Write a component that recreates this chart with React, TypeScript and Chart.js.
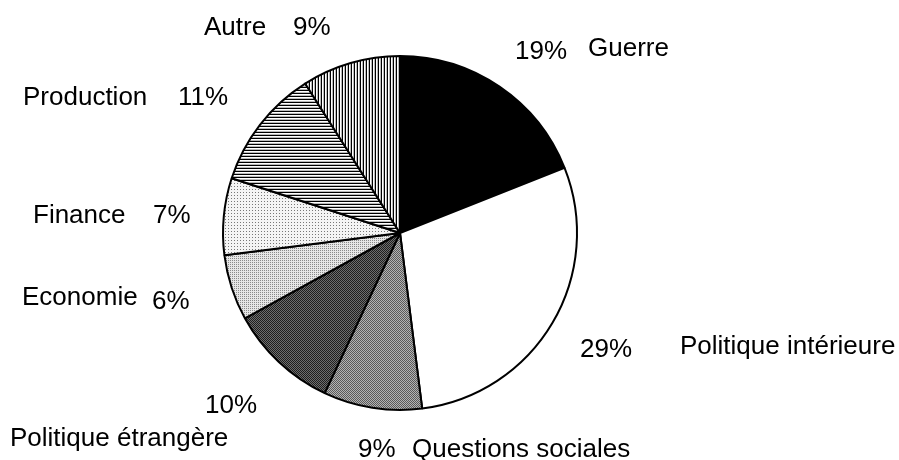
import React, { useEffect, useRef } from "react";
import { Chart, registerables } from "chart.js";

Chart.register(...registerables);

const categories = [
  "Guerre",
  "Politique intérieure",
  "Questions sociales",
  "Politique étrangère",
  "Economie",
  "Finance",
  "Production",
  "Autre",
];
const shares = [19, 29, 9, 10, 6, 7, 11, 9];

// label layout: [pctDx, pctDy, nameDx, nameDy] relative to pie centre (left aligned, cap-centre y)
const labelLayout: number[][] = [
  [115, -183, 188, -186],
  [180, 115, 280, 112],
  [-42, 215, 12, 215],
  [-195, 171, -390, 204],
  [-248, 67, -378, 63],
  [-247, -19, -367, -19],
  [-222, -137, -377, -137],
  [-107, -207, -196, -207],
];

function makeTile(w: number, h: number, pixels: string[]): CanvasPattern | string {
  const c = document.createElement("canvas");
  c.width = w;
  c.height = h;
  const ctx = c.getContext("2d");
  if (!ctx) return "#888";
  for (let y = 0; y < h; y++) {
    for (let x = 0; x < w; x++) {
      ctx.fillStyle = pixels[y * w + x];
      ctx.fillRect(x, y, 1, 1);
    }
  }
  const p = ctx.createPattern(c, "repeat");
  return p || "#888";
}

export default function App() {
  const ref = useRef<HTMLCanvasElement>(null);
  useEffect(() => {
    document.body.style.margin = "0";
    if (!ref.current) return;
    const fills = [
      "#000000",
      "#ffffff",
      makeTile(2, 2, ["#5a5a5a", "#b4b4b4", "#b4b4b4", "#5a5a5a"]),
      makeTile(2, 2, ["#1e1e1e", "#6e6e6e", "#6e6e6e", "#1e1e1e"]),
      makeTile(2, 2, ["#8a8a8a", "#e6e6e6", "#e6e6e6", "#e6e6e6"]),
      makeTile(3, 3, [
        "#777777", "#f4f4f4", "#f4f4f4",
        "#f4f4f4", "#f4f4f4", "#f4f4f4",
        "#f4f4f4", "#f4f4f4", "#f4f4f4",
      ]),
      makeTile(1, 3, ["#000000", "#ffffff", "#bbbbbb"]),
      makeTile(3, 1, ["#000000", "#ffffff", "#bbbbbb"]),
    ];
    const labelPlugin = {
      id: "sliceLabels",
      afterDraw(chart: any) {
        const meta = chart.getDatasetMeta(0);
        const arc = meta.data[0];
        if (!arc) return;
        const cx = arc.x;
        const cy = arc.y;
        const ctx = chart.ctx;
        const total = shares.reduce((a, b) => a + b, 0);
        ctx.save();
        ctx.fillStyle = "#000";
        ctx.font = '26px "Liberation Sans", Arial, sans-serif';
        ctx.textAlign = "left";
        ctx.textBaseline = "alphabetic";
        categories.forEach((name, i) => {
          const l = labelLayout[i];
          const pct = Math.round((shares[i] / total) * 100) + "%";
          ctx.fillText(pct, cx + l[0], cy + l[1] + 9);
          ctx.fillText(name, cx + l[2], cy + l[3] + 9);
        });
        ctx.restore();
      },
    };
    const chart = new Chart(ref.current, {
      type: "pie",
      data: {
        labels: categories,
        datasets: [
          {
            data: shares,
            backgroundColor: fills as any,
            borderColor: "#000",
            borderWidth: 2,
            hoverBorderWidth: 2,
            hoverOffset: 0,
          },
        ],
      },
      options: {
        animation: false,
        responsive: false,
        devicePixelRatio: 1,
        layout: { padding: { left: 222, right: 321, top: 55, bottom: 49 } },
        plugins: {
          legend: { display: false },
          tooltip: { enabled: false },
        },
        events: [],
      },
      plugins: [labelPlugin],
    });
    return () => chart.destroy();
  }, []);
  return (
    <div style={{ width: 899, height: 460, background: "#fff" }}>
      <canvas ref={ref} width={899} height={460} style={{ display: "block" }} />
    </div>
  );
}
